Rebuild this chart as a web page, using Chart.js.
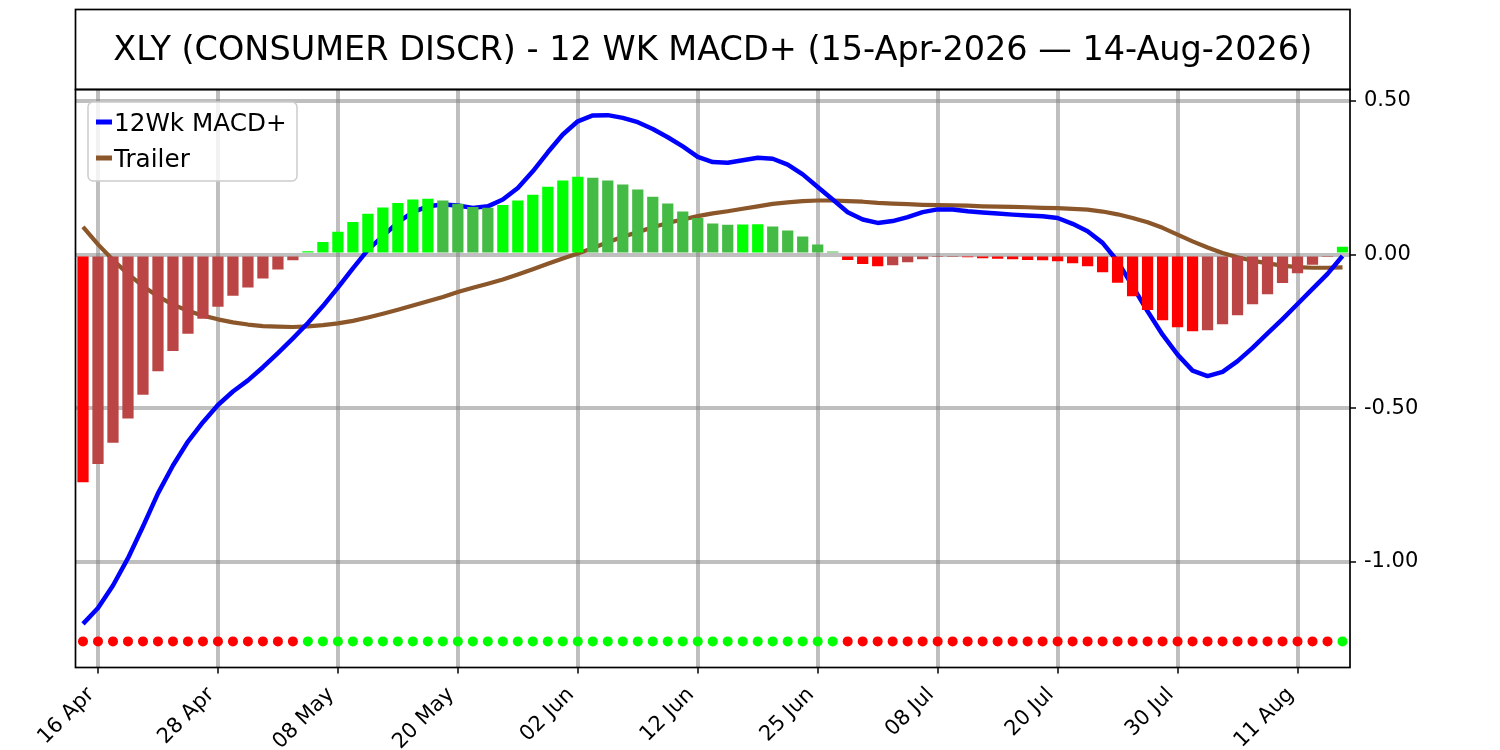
<!DOCTYPE html>
<html>
<head>
<meta charset="utf-8">
<title>XLY 12 WK MACD+</title>
<script src="https://cdn.jsdelivr.net/npm/chart.js@4.4.1/dist/chart.umd.min.js"></script>
<style>
  html, body { margin: 0; padding: 0; background: #fff; }
  #wrap { width: 1500px; height: 750px; }
</style>
</head>
<body>
<div id="wrap"><canvas id="chart" width="1500" height="750"></canvas></div>
<script>
// trading days shown on the x axis
const days = [
  '15 Apr','16 Apr','17 Apr','20 Apr','21 Apr','22 Apr','23 Apr','24 Apr','27 Apr','28 Apr',
  '29 Apr','30 Apr','01 May','04 May','05 May','06 May','07 May','08 May','11 May','12 May',
  '13 May','14 May','15 May','18 May','19 May','20 May','21 May','22 May','26 May','27 May',
  '28 May','29 May','01 Jun','02 Jun','03 Jun','04 Jun','05 Jun','08 Jun','09 Jun','10 Jun',
  '11 Jun','12 Jun','15 Jun','16 Jun','17 Jun','18 Jun','22 Jun','23 Jun','24 Jun','25 Jun',
  '26 Jun','29 Jun','30 Jun','01 Jul','02 Jul','06 Jul','07 Jul','08 Jul','09 Jul','10 Jul',
  '13 Jul','14 Jul','15 Jul','16 Jul','17 Jul','20 Jul','21 Jul','22 Jul','23 Jul','24 Jul',
  '27 Jul','28 Jul','29 Jul','30 Jul','31 Jul','03 Aug','04 Aug','05 Aug','06 Aug','07 Aug',
  '10 Aug','11 Aug','12 Aug','13 Aug','14 Aug'
];

// which days get a labelled tick
const tickDays = [1, 9, 17, 25, 33, 41, 49, 57, 65, 73, 81];

// y axis ticks
const yTicks = [0.5, 0, -0.5, -1.0];

// 12Wk MACD+ line
const macd = [
  -1.203, -1.151, -1.078, -0.989, -0.886, -0.778, -0.687, -0.609, -0.546, -0.490,
  -0.446, -0.410, -0.367, -0.321, -0.273, -0.223, -0.168, -0.108, -0.045, 0.015,
  0.060, 0.105, 0.138, 0.157, 0.163, 0.160, 0.152, 0.157, 0.179, 0.217,
  0.271, 0.333, 0.391, 0.434, 0.453, 0.454, 0.445, 0.431, 0.409, 0.382,
  0.352, 0.318, 0.301, 0.299, 0.307, 0.315, 0.312, 0.293, 0.261, 0.220,
  0.179, 0.138, 0.114, 0.103, 0.109, 0.122, 0.138, 0.147, 0.147, 0.141,
  0.137, 0.134, 0.130, 0.127, 0.125, 0.119, 0.100, 0.076, 0.038, -0.022,
  -0.103, -0.185, -0.261, -0.326, -0.378, -0.396, -0.382, -0.347, -0.304, -0.257,
  -0.210, -0.161, -0.112, -0.063, -0.005
];

// Trailer line
const trailer = [
  0.090, 0.033, -0.018, -0.063, -0.103, -0.136, -0.163, -0.183, -0.199, -0.211,
  -0.221, -0.228, -0.233, -0.235, -0.236, -0.234, -0.230, -0.224, -0.216, -0.205,
  -0.193, -0.180, -0.166, -0.152, -0.138, -0.122, -0.108, -0.095, -0.081, -0.065,
  -0.048, -0.030, -0.013, 0.003, 0.021, 0.040, 0.058, 0.073, 0.089, 0.103,
  0.114, 0.125, 0.134, 0.141, 0.149, 0.157, 0.165, 0.170, 0.174, 0.176,
  0.176, 0.174, 0.172, 0.168, 0.166, 0.164, 0.162, 0.161, 0.160, 0.159,
  0.157, 0.156, 0.155, 0.154, 0.152, 0.151, 0.149, 0.146, 0.140, 0.131,
  0.119, 0.105, 0.087, 0.065, 0.043, 0.023, 0.005, -0.009, -0.020, -0.029,
  -0.036, -0.041, -0.043, -0.043, -0.042
];

// histogram bars
const hist = [
  -0.742, -0.682, -0.613, -0.534, -0.457, -0.380, -0.314, -0.258, -0.209, -0.170,
  -0.134, -0.107, -0.078, -0.049, -0.019, 0.011, 0.041, 0.074, 0.106, 0.133,
  0.153, 0.168, 0.179, 0.182, 0.176, 0.165, 0.155, 0.152, 0.161, 0.176,
  0.195, 0.221, 0.241, 0.253, 0.250, 0.241, 0.228, 0.212, 0.188, 0.166,
  0.140, 0.119, 0.101, 0.097, 0.098, 0.099, 0.091, 0.078, 0.059, 0.033,
  0.010, -0.018, -0.031, -0.038, -0.035, -0.025, -0.015, -0.008, -0.005, -0.009,
  -0.012, -0.014, -0.015, -0.018, -0.019, -0.022, -0.028, -0.038, -0.058, -0.092,
  -0.136, -0.181, -0.214, -0.237, -0.250, -0.247, -0.227, -0.198, -0.162, -0.129,
  -0.093, -0.061, -0.033, -0.005, 0.025
];

// level of the signal dots row
const signalLevel = -1.26;

const FONT = 'DejaVu Sans';
const GRID = 'rgba(128,128,128,0.5)';

// bright when the bar grows away from zero, dull when it shrinks
const barColors = hist.map((v, i) => {
  const prev = i > 0 ? hist[i - 1] : 0;
  if (v >= 0) return v >= prev ? '#00ff00' : '#44bb44';
  return v <= prev ? '#ff0000' : '#bb4444';
});
const dotColors = hist.map(v => v >= 0 ? '#00ff00' : '#ff0000');

// title box, plot frame and legend drawn by hand
const framePlugin = {
  id: 'frame',
  afterDraw(chart) {
    const ctx = chart.ctx;
    const a = chart.chartArea;
    ctx.save();
    ctx.strokeStyle = '#000';
    ctx.lineWidth = 1.7;
    ctx.strokeRect(a.left, 9.5, a.right - a.left, a.top - 9.5);
    ctx.strokeRect(a.left, a.top, a.right - a.left, a.bottom - a.top);

    // legend
    ctx.beginPath();
    ctx.roundRect(88, 102, 209, 79, 5);
    ctx.fillStyle = 'rgba(255,255,255,0.8)';
    ctx.fill();
    ctx.strokeStyle = '#cccccc';
    ctx.lineWidth = 1.5;
    ctx.stroke();

    const items = [
      { label: '12Wk MACD+', color: '#0000ff', y: 122 },
      { label: 'Trailer', color: '#8b572a', y: 158 }
    ];
    ctx.font = '24.7px "' + FONT + '"';
    ctx.textBaseline = 'middle';
    ctx.textAlign = 'left';
    items.forEach(it => {
      ctx.beginPath();
      ctx.moveTo(96, it.y);
      ctx.lineTo(112, it.y);
      ctx.strokeStyle = it.color;
      ctx.lineWidth = 5;
      ctx.stroke();
      ctx.fillStyle = '#000';
      ctx.fillText(it.label, 114, it.y + 2.5);
    });
    ctx.restore();
  }
};

new Chart(document.getElementById('chart'), {
  type: 'bar',
  data: {
    labels: days,
    datasets: [
      {
        type: 'line',
        label: 'Signal',
        data: hist.map(() => signalLevel),
        showLine: false,
        pointRadius: 5,
        pointBorderWidth: 0,
        pointBackgroundColor: dotColors,
        pointBorderColor: dotColors,
        order: 0
      },
      {
        label: 'Histogram',
        data: hist,
        backgroundColor: barColors,
        borderWidth: 0,
        barPercentage: 0.75,
        categoryPercentage: 1.0,
        order: 1
      },
      {
        type: 'line',
        label: '12Wk MACD+',
        data: macd,
        borderColor: '#0000ff',
        borderWidth: 4.5,
        pointRadius: 0,
        tension: 0,
        borderJoinStyle: 'round',
        order: 2
      },
      {
        type: 'line',
        label: 'Trailer',
        data: trailer,
        borderColor: '#8b572a',
        borderWidth: 4.2,
        pointRadius: 0,
        tension: 0,
        borderJoinStyle: 'round',
        order: 3
      }
    ]
  },
  options: {
    responsive: false,
    animation: false,
    layout: { padding: { left: 75.5, right: 0, top: 0, bottom: 0 } },
    plugins: {
      legend: { display: false },
      tooltip: { enabled: false },
      title: {
        display: true,
        fullSize: false,
        text: 'XLY (CONSUMER DISCR) - 12 WK MACD+ (15-Apr-2026 \u2014 14-Aug-2026)',
        color: '#000',
        font: { family: FONT, size: 33.5, weight: 'normal' },
        padding: { top: 31.4, bottom: 17.9 }
      }
    },
    scales: {
      x: {
        offset: true,
        grid: {
          offset: false,
          color: GRID,
          lineWidth: 4,
          tickColor: '#000',
          tickLength: 6,
          tickWidth: 1.5
        },
        border: { display: false },
        ticks: {
          autoSkip: false,
          minRotation: 45,
          maxRotation: 45,
          color: '#000',
          padding: 9,
          labelOffset: -7,
          font: { family: FONT, size: 21 }
        },
        afterBuildTicks: s => { s.ticks = tickDays.map(v => ({ value: v })); },
        afterFit: s => { s.height = 82.5; }
      },
      y: {
        position: 'right',
        min: -1.345,
        max: 0.5375,
        z: 1,
        grid: {
          color: GRID,
          lineWidth: 4,
          tickColor: '#000',
          tickLength: 6,
          tickWidth: 1.5
        },
        border: { display: false },
        ticks: {
          color: '#000',
          padding: 8,
          font: { family: FONT, size: 21 },
          callback: v => v.toFixed(2)
        },
        afterBuildTicks: s => { s.ticks = yTicks.map(v => ({ value: v })); },
        afterFit: s => { s.width = 150; }
      }
    }
  },
  plugins: [framePlugin]
});
</script>
</body>
</html>
